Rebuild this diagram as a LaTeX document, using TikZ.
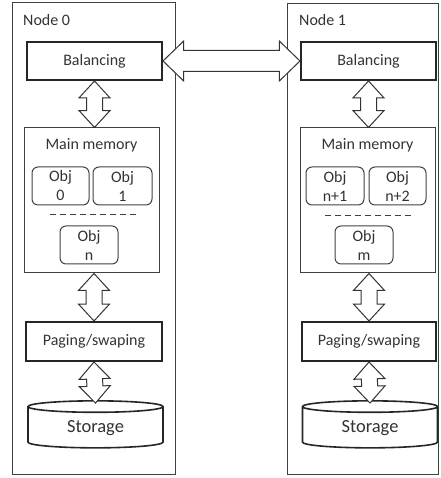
\documentclass[tikz,border=0pt]{standalone}
\usepackage{fontspec}
\setmainfont{Carlito}
\usetikzlibrary{shapes.geometric,shapes.arrows,positioning,calc}

\tikzset{
  every node/.style = {font=\fontsize{16}{19}\selectfont, text=black!80},
  frame/.style = {draw=black!75, line width=1pt, inner sep=0pt},
  block/.style = {draw=black!85, line width=2pt, minimum width=135, minimum height=38},
  memory/.style = {draw=black!75, line width=1pt, minimum width=135, minimum height=145},
  obj/.style = {draw=black!75, line width=1pt, rounded corners=6pt, minimum width=58,
                minimum height=38, align=center, inner sep=0pt},
  disk/.style = {draw=black!85, line width=1.6pt, fill=white, cylinder, shape border rotate=90,
                 aspect=0.18, minimum width=135, minimum height=47,
                 font=\fontsize{18.5}{22}\selectfont},
  link/.style = {draw=black!80, fill=white, line width=1pt, double arrow,
                 double arrow tip angle=85, double arrow head extend=7.5pt,
                 inner xsep=0pt, inner ysep=7.5pt},
  wide link/.style = {link, double arrow tip angle=88, double arrow head extend=9.5pt,
                      inner ysep=10pt},
  sep line/.style = {draw=black!75, line width=1pt, dash pattern=on 6pt off 4pt}
}

% block arrow stretched between two anchors
\newcommand{\bilink}[3][link]{%
  \path let \p1 = ($(#3)-(#2)$), \n1 = {veclen(\x1,\y1)} in
    (#2) -- node[#1, sloped, minimum height=\n1] {} (#3);}

\begin{document}
\begin{tikzpicture}[x=1pt, y=1pt]
\useasboundingbox (0,0) rectangle (440,478);

% two machines
\node[frame, minimum width=163, minimum height=472] (node0) at (93.5,239) {};
\node[frame, minimum width=151, minimum height=471] (node1) at (362.5,239) {};
\node[anchor=west, inner sep=0pt] (lab0) at (23,458) {Node 0};
\node[anchor=west, inner sep=0pt] (lab1) at (299,458) {Node 1};

% node 0
\node[block] (bal0) at (94.5,417) {Balancing};
\node[memory] (mem0) at (91.5,277.5) {};
\node (mm0) at ($(mem0.north)+(0,-18)$) {Main memory};
\node[obj, minimum width=57] (obj0) at (60.5,292) {Obj\\0};
\node[obj, minimum width=59] (obj1) at (122.5,292) {Obj\\1};
\draw[sep line] (50,263) -- (137,263);
\node[obj] (objn) at (89,233) {Obj\\n};
\node[block, minimum width=136, minimum height=39] (pag0) at (94,136.5) {Paging/swaping};
\node[disk] (stor0) at (95.5,49.5) {Storage};

% node 1
\node[block] (bal1) at (368.5,417) {Balancing};
\node[memory] (mem1) at (367.5,277.5) {};
\node (mm1) at ($(mem1.north)+(0,-18)$) {Main memory};
\node[obj] (obj2) at (335,292) {Obj\\n+1};
\node[obj, minimum width=57] (obj3) at (397.5,292) {Obj\\n+2};
\draw[sep line] (325,262) -- (412,262);
\node[obj] (objm) at (364,233) {Obj\\m};
\node[block, minimum width=134, minimum height=39] (pag1) at (369,136.5) {Paging/swaping};
\node[disk] (stor1) at (370,49.5) {Storage};

% data paths
\bilink[wide link]{bal0.east}{bal1.west}
\bilink{bal0.south}{bal0.south |- mem0.north}
\bilink{pag0.north |- mem0.south}{pag0.north}
\bilink{pag0.south}{[yshift=-3pt]stor0.north}
\bilink{bal1.south}{bal1.south |- mem1.north}
\bilink{pag1.north |- mem1.south}{pag1.north}
\bilink{pag1.south}{[yshift=-3pt]stor1.north}

\end{tikzpicture}
\end{document}
